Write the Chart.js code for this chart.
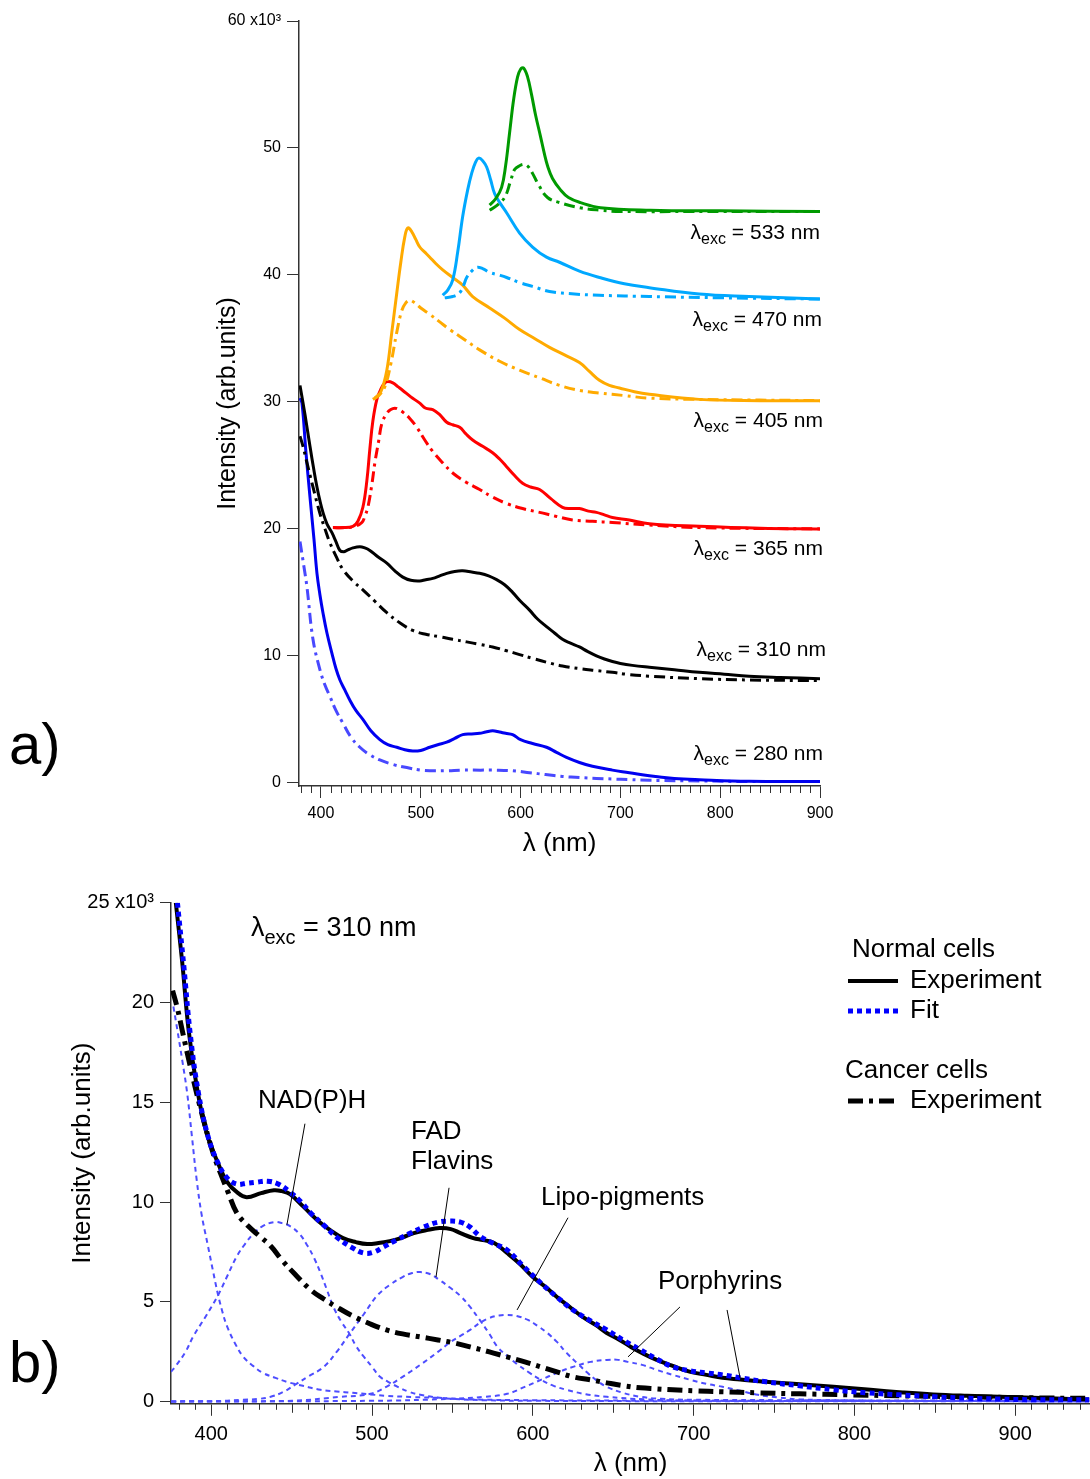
<!DOCTYPE html>
<html>
<head>
<meta charset="utf-8">
<script src="https://cdn.jsdelivr.net/npm/chart.js@4.4.0/dist/chart.umd.min.js"></script>
<style>
  body { margin: 0; background: #fff; }
  #wrap { position: relative; width: 1090px; height: 1479px; }
  canvas { position: absolute; left: 0; }
</style>
</head>
<body>
<div id="wrap">
  <canvas id="chartA" width="1090" height="875" style="top:0;width:1090px;height:875px"></canvas>
  <canvas id="chartB" width="1090" height="604" style="top:875px;width:1090px;height:604px"></canvas>
</div>
<script>
// ---- panel a) : emission spectra for six excitation wavelengths ----
const wl533n = [569, 575, 581, 585, 589, 593, 597, 600, 603, 607, 611, 615, 620, 624, 627, 632, 640, 648, 660, 680, 730, 800, 900];
const int533n = [45.5, 46.0, 46.9, 48.6, 51.2, 53.8, 55.6, 56.2, 56.3, 55.6, 54.2, 52.6, 50.9, 49.5, 48.6, 47.6, 46.7, 46.1, 45.7, 45.3, 45.1, 45.05, 45.0];
const wl533c = [569, 575, 584, 590, 594, 599, 604, 608, 612, 618, 627, 639, 659, 680, 700, 800, 900];
const int533c = [45.1, 45.4, 46.1, 47.4, 48.3, 48.6, 48.7, 48.5, 48.0, 47.1, 46.1, 45.7, 45.3, 45.1, 45.0, 45.0, 45.0];

const wl470n = [522, 527, 532, 537, 542, 547, 551, 555, 558, 562, 566, 570, 574, 580, 586, 599, 612, 626, 639, 659, 679, 704, 729, 779, 829, 900];
const int470n = [38.4, 38.8, 39.6, 41.8, 44.6, 46.7, 48.0, 48.9, 49.2, 49.0, 48.5, 47.5, 46.4, 45.6, 44.9, 43.3, 42.2, 41.4, 41.0, 40.3, 39.8, 39.3, 39.0, 38.5, 38.3, 38.1];
const wl470c = [524, 532, 539, 543, 546, 551, 556, 562, 569, 578, 586, 599, 612, 629, 654, 679, 729, 800, 900];
const int470c = [38.2, 38.3, 38.6, 39.2, 39.8, 40.3, 40.6, 40.5, 40.2, 40.0, 39.8, 39.4, 39.1, 38.7, 38.5, 38.4, 38.3, 38.2, 38.1];

const wl405n = [454, 460, 466, 471, 476, 480, 484, 487, 491, 495, 499, 504, 509, 515, 522, 532, 542, 552, 569, 584, 599, 614, 629, 644, 659, 669, 679, 689, 699, 714, 729, 779, 840, 900];
const int405n = [30.3, 30.8, 32.5, 35.5, 38.6, 41.0, 43.0, 43.7, 43.4, 42.8, 42.2, 41.8, 41.4, 40.9, 40.4, 39.8, 39.2, 38.3, 37.4, 36.6, 35.7, 35.0, 34.3, 33.7, 33.1, 32.4, 31.7, 31.3, 31.1, 30.8, 30.6, 30.2, 30.1, 30.1];
const wl405c = [452, 458, 464, 470, 476, 481, 485, 489, 494, 500, 509, 519, 529, 544, 559, 579, 599, 619, 639, 659, 679, 704, 729, 779, 900];
const int405c = [30.2, 30.5, 31.2, 33.0, 35.5, 37.2, 37.8, 38.0, 37.8, 37.4, 36.9, 36.3, 35.7, 34.9, 34.1, 33.2, 32.5, 31.9, 31.3, 30.9, 30.7, 30.5, 30.3, 30.2, 30.1];

const wl365n = [412, 422, 432, 437, 442, 446, 449, 452, 456, 460, 464, 467, 472, 477, 482, 490, 499, 505, 512, 519, 526, 532, 539, 545, 552, 562, 572, 579, 586, 594, 602, 610, 619, 630, 642, 650, 659, 668, 676, 684, 692, 709, 729, 779, 840, 900];
const int365n = [20.1, 20.1, 20.2, 20.6, 21.7, 23.8, 26.3, 28.5, 30.2, 31.0, 31.5, 31.6, 31.5, 31.2, 30.9, 30.4, 29.9, 29.5, 29.4, 29.0, 28.4, 28.2, 28.0, 27.5, 27.0, 26.5, 26.0, 25.5, 24.9, 24.2, 23.6, 23.3, 23.1, 22.4, 21.7, 21.6, 21.6, 21.4, 21.3, 21.1, 20.9, 20.7, 20.4, 20.2, 20.05, 20.0];
const wl365c = [412, 425, 434, 441, 444, 447, 451, 454, 458, 461, 466, 470, 474, 478, 482, 489, 496, 504, 512, 522, 532, 545, 559, 572, 586, 602, 619, 635, 652, 672, 692, 729, 779, 900];
const int365c = [20.1, 20.1, 20.2, 20.5, 21.0, 21.7, 23.5, 25.2, 27.0, 28.3, 29.1, 29.4, 29.5, 29.4, 29.2, 28.7, 28.0, 27.0, 26.1, 25.2, 24.4, 23.7, 23.1, 22.5, 22.0, 21.6, 21.3, 21.0, 20.7, 20.6, 20.5, 20.3, 20.1, 20.0];

const wl310n = [379, 384, 389, 393, 396, 399, 402, 406, 411, 415, 419, 423, 426, 432, 439, 444, 449, 457, 466, 474, 482, 490, 499, 505, 512, 519, 526, 534, 542, 551, 559, 568, 576, 584, 592, 600, 609, 617, 626, 634, 642, 650, 659, 667, 676, 684, 692, 700, 712, 729, 754, 779, 804, 829, 860, 900];
const int310n = [31.3, 29.0, 26.5, 24.6, 23.3, 22.2, 21.3, 20.4, 19.7, 19.0, 18.3, 18.2, 18.3, 18.5, 18.6, 18.5, 18.3, 17.8, 17.3, 16.7, 16.2, 15.95, 15.9, 16.0, 16.1, 16.3, 16.5, 16.65, 16.7, 16.6, 16.5, 16.3, 16.0, 15.6, 15.0, 14.3, 13.6, 12.9, 12.3, 11.8, 11.3, 11.0, 10.7, 10.35, 10.0, 9.75, 9.55, 9.4, 9.25, 9.1, 8.9, 8.7, 8.55, 8.4, 8.3, 8.2];
const wl310c = [379, 382, 386, 392, 399, 404, 409, 416, 422, 432, 442, 454, 466, 479, 492, 505, 519, 532, 546, 559, 572, 586, 599, 612, 626, 642, 659, 675, 692, 706, 729, 779, 829, 900];
const int310c = [27.3, 26.5, 25.2, 23.3, 21.2, 20.0, 18.9, 17.7, 16.8, 15.9, 15.2, 14.3, 13.4, 12.6, 12.0, 11.7, 11.5, 11.3, 11.1, 10.9, 10.7, 10.4, 10.1, 9.8, 9.5, 9.2, 9.0, 8.85, 8.7, 8.55, 8.4, 8.2, 8.1, 8.05];

const wl280n = [379, 381, 385, 389, 393, 396, 399, 402, 406, 411, 415, 419, 424, 429, 435, 442, 450, 459, 467, 476, 484, 492, 500, 509, 517, 526, 534, 542, 551, 559, 565, 572, 579, 585, 592, 600, 612, 626, 636, 646, 659, 672, 692, 709, 729, 754, 779, 829, 900];
const int280n = [30.3, 29.9, 26.0, 22.5, 19.2, 16.5, 14.8, 13.4, 11.8, 10.2, 9.0, 8.1, 7.3, 6.5, 5.7, 5.0, 4.1, 3.4, 3.0, 2.8, 2.6, 2.5, 2.55, 2.8, 3.0, 3.2, 3.5, 3.8, 3.85, 3.9, 4.0, 4.1, 4.0, 3.9, 3.8, 3.4, 3.1, 2.8, 2.4, 2.0, 1.6, 1.3, 1.0, 0.8, 0.55, 0.35, 0.25, 0.12, 0.1];
const wl280c = [379, 383, 386, 392, 399, 404, 409, 415, 422, 430, 439, 449, 459, 472, 486, 500, 509, 525, 542, 560, 576, 592, 609, 625, 642, 659, 676, 692, 709, 729, 779, 829, 900];
const int280c = [19.0, 17.0, 15.4, 11.3, 8.9, 7.7, 6.8, 5.7, 4.7, 3.6, 2.8, 2.2, 1.8, 1.45, 1.2, 1.0, 0.95, 0.95, 1.0, 1.0, 1.0, 0.95, 0.8, 0.65, 0.5, 0.42, 0.35, 0.3, 0.25, 0.2, 0.15, 0.1, 0.1];

const ticksAx = [400, 500, 600, 700, 800, 900];
const ticksAy = [0, 10, 20, 30, 40, 50, 60];

// ---- panel b) : 310 nm excitation, fit decomposition ----
const wlNormal = [378, 382, 386, 391, 397, 404, 410, 416, 422, 431, 439, 444, 449, 457, 466, 474, 482, 490, 497, 504, 511, 518, 526, 534, 542, 549, 555, 563, 569, 576, 584, 592, 600, 608, 615, 623, 631, 639, 646, 654, 661, 669, 677, 687, 698, 708, 718, 729, 745, 766, 787, 810, 830, 849, 870, 890, 911, 930, 946];
const intNormal = [25.0, 22.0, 18.6, 15.8, 13.5, 12.0, 11.0, 10.5, 10.25, 10.45, 10.6, 10.55, 10.4, 9.8, 9.1, 8.6, 8.2, 8.0, 7.9, 7.95, 8.05, 8.2, 8.45, 8.6, 8.7, 8.65, 8.45, 8.2, 8.1, 7.95, 7.45, 6.9, 6.25, 5.75, 5.25, 4.75, 4.25, 3.85, 3.45, 3.1, 2.75, 2.4, 2.1, 1.8, 1.5, 1.35, 1.2, 1.12, 1.0, 0.88, 0.75, 0.6, 0.47, 0.37, 0.3, 0.25, 0.2, 0.15, 0.12];
const wlFit = [379, 383, 387, 392, 398, 404, 410, 416, 422, 428, 435, 442, 449, 456, 462, 470, 478, 487, 495, 501, 507, 515, 524, 532, 541, 548, 555, 561, 567, 575, 584, 594, 605, 615, 625, 636, 646, 656, 667, 677, 687, 698, 708, 718, 729, 745, 766, 787, 808, 828, 850, 870, 890, 911, 930, 946];
const intFit = [25.0, 21.8, 18.4, 15.5, 13.3, 12.0, 11.2, 10.9, 10.95, 11.0, 11.05, 10.9, 10.5, 10.0, 9.45, 8.85, 8.25, 7.75, 7.45, 7.5, 7.75, 8.1, 8.45, 8.75, 9.0, 9.05, 9.0, 8.75, 8.3, 7.95, 7.6, 6.8, 5.95, 5.25, 4.6, 4.05, 3.6, 3.1, 2.6, 2.15, 1.75, 1.55, 1.45, 1.35, 1.2, 1.0, 0.8, 0.6, 0.45, 0.35, 0.25, 0.18, 0.14, 0.1, 0.1, 0.1];
const wlCancer = [376, 379, 382, 387, 393, 401, 406, 410, 416, 423, 430, 437, 444, 452, 462, 470, 478, 488, 499, 509, 519, 530, 541, 551, 561, 573, 584, 595, 605, 615, 625, 636, 646, 657, 667, 677, 687, 700, 718, 740, 766, 797, 828, 870, 910, 946];
const intCancer = [20.6, 19.7, 18.6, 16.8, 14.8, 12.5, 11.4, 10.6, 9.45, 8.8, 8.3, 7.8, 7.1, 6.4, 5.6, 5.15, 4.75, 4.3, 3.9, 3.6, 3.4, 3.25, 3.1, 2.95, 2.75, 2.5, 2.25, 2.0, 1.75, 1.5, 1.25, 1.1, 0.95, 0.8, 0.7, 0.65, 0.6, 0.55, 0.5, 0.45, 0.4, 0.35, 0.3, 0.25, 0.2, 0.17];

const wlUV = [376.5, 379, 382, 385, 388, 391, 394, 398, 401, 404, 407, 410, 415, 420, 426, 432, 440, 447, 457, 468, 478, 488, 499, 509, 525, 541, 561, 600, 700, 800, 946];
const intUV = [19.8, 18.6, 17.1, 15.5, 13.3, 11.1, 9.4, 7.8, 6.6, 5.45, 4.5, 3.75, 2.9, 2.25, 1.8, 1.45, 1.2, 1.0, 0.8, 0.6, 0.52, 0.45, 0.37, 0.3, 0.24, 0.2, 0.12, 0.08, 0.05, 0.04, 0.03];
const wlNADH = [375, 378, 384, 389, 396, 404, 410, 416, 421, 426, 432, 439, 444, 449, 455, 460, 464, 468, 472, 476, 481, 486, 490, 495, 500, 505, 510, 516, 523, 530, 540, 550, 570, 600, 700, 946];
const intNADH = [1.5, 1.8, 2.5, 3.3, 4.2, 5.3, 6.3, 7.3, 7.9, 8.4, 8.8, 9.0, 8.95, 8.8, 8.4, 7.8, 7.2, 6.45, 5.6, 4.75, 4.0, 3.4, 2.8, 2.25, 1.75, 1.25, 1.0, 0.75, 0.5, 0.35, 0.22, 0.15, 0.08, 0.05, 0.03, 0.02];
const wlFAD = [375, 400, 420, 430, 437, 445, 453, 461, 470, 478, 486, 495, 503, 511, 519, 525, 530, 536, 542, 548, 555, 561, 567, 573, 578, 584, 590, 598, 605, 613, 621, 633, 646, 670, 700, 946];
const intFAD = [0.02, 0.03, 0.1, 0.15, 0.25, 0.5, 0.9, 1.3, 1.75, 2.5, 3.4, 4.4, 5.3, 5.85, 6.25, 6.45, 6.5, 6.4, 6.1, 5.75, 5.3, 4.75, 4.1, 3.4, 2.75, 2.3, 1.9, 1.45, 1.1, 0.8, 0.6, 0.38, 0.25, 0.12, 0.06, 0.03];
const wlLipo = [375, 450, 480, 499, 510, 519, 530, 541, 549, 555, 561, 567, 573, 579, 584, 590, 597, 603, 609, 615, 621, 628, 634, 640, 646, 656, 667, 680, 700, 946];
const intLipo = [0.02, 0.05, 0.25, 0.4, 0.8, 1.25, 1.85, 2.5, 3.0, 3.3, 3.6, 3.95, 4.2, 4.32, 4.35, 4.3, 4.1, 3.8, 3.45, 3.0, 2.45, 1.9, 1.45, 1.05, 0.75, 0.45, 0.25, 0.15, 0.1, 0.05];
const wlPorph = [375, 500, 550, 570, 584, 595, 605, 615, 625, 636, 646, 653, 659, 668, 677, 687, 698, 708, 718, 729, 740, 752, 766, 790, 830, 946];
const intPorph = [0.02, 0.05, 0.15, 0.25, 0.4, 0.75, 1.1, 1.45, 1.75, 2.0, 2.1, 2.1, 2.0, 1.85, 1.6, 1.35, 1.1, 0.9, 0.75, 0.55, 0.35, 0.22, 0.12, 0.08, 0.05, 0.04];

const ticksBx = [400, 500, 600, 700, 800, 900];
const ticksBy = [0, 5, 10, 15, 20, 25];

const FONT = '"Liberation Sans", Arial, Helvetica, sans-serif';
const AXIS = '#333';
Chart.defaults.font.family = FONT;
Chart.defaults.color = '#000';

function pts(xs, ys) {
    return xs.map((x, i) => ({ x: x, y: ys[i] }));
}

function series(label, xs, ys, color, width, dash) {
    return {
        label: label,
        data: pts(xs, ys),
        borderColor: color,
        borderWidth: width,
        borderDash: dash || [],
        borderCapStyle: 'butt',
        borderJoinStyle: 'round',
        pointRadius: 0,
        fill: false,
        tension: 0.4
    };
}

// small ticks between the labelled ones
const minorTicks = {
    id: 'minorTicks',
    afterDraw(chart, args, o) {
        const sc = chart.scales.x;
        const ctx = chart.ctx;
        ctx.save();
        ctx.strokeStyle = AXIS;
        ctx.lineWidth = 1;
        ctx.beginPath();
        for (let v = o.from; v <= o.to; v += 10) {
            if (v % 100 === 0) continue;
            const px = Math.round(sc.getPixelForValue(v)) + 0.5;
            const len = v % 50 === 0 ? o.mid : o.short;
            ctx.moveTo(px, sc.top);
            ctx.lineTo(px, sc.top + len);
        }
        ctx.stroke();
        ctx.restore();
    }
};

function lambdaText(ctx, x, y, align, big, small, drop, value) {
    const rest = ' = ' + value + ' nm';
    ctx.font = big + 'px ' + FONT;
    const wL = ctx.measureText('λ').width;
    const wR = ctx.measureText(rest).width;
    ctx.font = small + 'px ' + FONT;
    const wS = ctx.measureText('exc').width;
    const x0 = align === 'right' ? x - (wL + wS + wR) : x;
    ctx.textAlign = 'left';
    ctx.textBaseline = 'middle';
    ctx.font = big + 'px ' + FONT;
    ctx.fillText('λ', x0, y);
    ctx.fillText(rest, x0 + wL + wS, y);
    ctx.font = small + 'px ' + FONT;
    ctx.fillText('exc', x0 + wL, y + drop);
}

const annotA = {
    id: 'annotA',
    afterDraw(chart) {
        const ctx = chart.ctx;
        ctx.save();
        ctx.fillStyle = '#000';
        lambdaText(ctx, 820, 233, 'right', 21, 16, 7, '533');
        lambdaText(ctx, 822, 320, 'right', 21, 16, 7, '470');
        lambdaText(ctx, 823, 421, 'right', 21, 16, 7, '405');
        lambdaText(ctx, 823, 549, 'right', 21, 16, 7, '365');
        lambdaText(ctx, 826, 650, 'right', 21, 16, 7, '310');
        lambdaText(ctx, 823, 754, 'right', 21, 16, 7, '280');
        ctx.font = '58px ' + FONT;
        ctx.textAlign = 'left';
        ctx.textBaseline = 'alphabetic';
        ctx.fillText('a)', 9, 764);
        ctx.restore();
    }
};

const annotB = {
    id: 'annotB',
    afterDraw(chart) {
        const ctx = chart.ctx;
        const x = chart.scales.x, y = chart.scales.y;
        ctx.save();
        ctx.fillStyle = '#000';
        lambdaText(ctx, 251, 54, 'left', 27, 20, 9, '310');

        ctx.font = '26px ' + FONT;
        ctx.textAlign = 'left';
        ctx.textBaseline = 'middle';
        ctx.fillText('NAD(P)H', 258, 226);
        ctx.fillText('FAD', 411, 257);
        ctx.fillText('Flavins', 411, 287);
        ctx.fillText('Lipo-pigments', 541, 323);
        ctx.fillText('Porphyrins', 658, 407);

        // leader lines, given in data units
        const leaders = [
            [458.3, 13.93, 447.1, 8.87],
            [547.9, 10.72, 539.8, 6.25],
            [621.9, 9.22, 590.2, 4.6],
            [691.5, 4.75, 659.2, 2.25],
            [720.8, 4.6, 728.9, 1.2]
        ];
        ctx.strokeStyle = '#000';
        ctx.lineWidth = 1;
        ctx.beginPath();
        leaders.forEach(l => {
            ctx.moveTo(x.getPixelForValue(l[0]), y.getPixelForValue(l[1]));
            ctx.lineTo(x.getPixelForValue(l[2]), y.getPixelForValue(l[3]));
        });
        ctx.stroke();

        // legend
        ctx.fillText('Normal cells', 852, 75);
        ctx.fillText('Experiment', 910, 106);
        ctx.fillText('Fit', 910, 136);
        ctx.fillText('Cancer cells', 845, 196);
        ctx.fillText('Experiment', 910, 226);
        ctx.lineCap = 'butt';
        ctx.strokeStyle = '#000';
        ctx.lineWidth = 4;
        ctx.setLineDash([]);
        ctx.beginPath(); ctx.moveTo(848, 106); ctx.lineTo(898, 106); ctx.stroke();
        ctx.strokeStyle = '#0000ff';
        ctx.lineWidth = 5;
        ctx.setLineDash([5, 4]);
        ctx.beginPath(); ctx.moveTo(848, 136); ctx.lineTo(898, 136); ctx.stroke();
        ctx.strokeStyle = '#000';
        ctx.lineWidth = 5;
        ctx.setLineDash([15, 6, 4, 6]);
        ctx.beginPath(); ctx.moveTo(848, 226); ctx.lineTo(898, 226); ctx.stroke();
        ctx.setLineDash([]);

        ctx.font = '58px ' + FONT;
        ctx.textBaseline = 'alphabetic';
        ctx.fillText('b)', 9, 507);
        ctx.restore();
    }
};

const DASHDOT = [11, 5, 3, 5];

new Chart(document.getElementById('chartA'), {
    type: 'line',
    data: {
        datasets: [
            series('533 normal', wl533n, int533n, '#009a00', 3),
            series('533 cancer', wl533c, int533c, '#009a00', 3, DASHDOT),
            series('470 normal', wl470n, int470n, '#00a8ff', 3),
            series('470 cancer', wl470c, int470c, '#00a8ff', 3, DASHDOT),
            series('405 normal', wl405n, int405n, '#ffaa00', 3),
            series('405 cancer', wl405c, int405c, '#ffaa00', 3, DASHDOT),
            series('365 normal', wl365n, int365n, '#ff0000', 3),
            series('365 cancer', wl365c, int365c, '#ff0000', 3, DASHDOT),
            series('310 normal', wl310n, int310n, '#000000', 3),
            series('310 cancer', wl310c, int310c, '#000000', 3, DASHDOT),
            series('280 normal', wl280n, int280n, '#0000f0', 3),
            series('280 cancer', wl280c, int280c, '#4848ff', 3, DASHDOT)
        ]
    },
    options: {
        responsive: false,
        animation: false,
        layout: { padding: { left: 205, top: 21, right: 270, bottom: 0 } },
        plugins: {
            legend: { display: false },
            tooltip: { enabled: false },
            minorTicks: { from: 380, to: 900, short: 7, mid: 7 }
        },
        scales: {
            x: {
                type: 'linear',
                min: 378,
                max: 900,
                afterBuildTicks: s => { s.ticks = ticksAx.map(v => ({ value: v })); },
                afterFit: s => { s.height = 89; },
                grid: { drawOnChartArea: false, drawTicks: true, tickLength: 12, color: AXIS, lineWidth: 1 },
                border: { display: true, color: AXIS, width: 1.5 },
                ticks: { font: { size: 16 }, padding: 6, color: '#000', autoSkip: false, maxRotation: 0 },
                title: { display: true, text: 'λ (nm)', font: { size: 26 }, color: '#000', padding: { top: 0, bottom: 16 } }
            },
            y: {
                type: 'linear',
                min: -0.25,
                max: 60,
                afterBuildTicks: s => { s.ticks = ticksAy.map(v => ({ value: v })); },
                afterFit: s => { s.width = 94; },
                grid: { drawOnChartArea: false, drawTicks: true, tickLength: 12, color: AXIS, lineWidth: 1 },
                border: { display: true, color: AXIS, width: 1.5 },
                ticks: {
                    font: { size: 16 }, padding: 6, color: '#000',
                    callback: v => v === 60 ? '60 x10³' : String(v)
                },
                title: { display: true, text: 'Intensity (arb.units)', font: { size: 25 }, color: '#000', padding: { top: 8, bottom: 0 } }
            }
        }
    },
    plugins: [minorTicks, annotA]
});

const COMP = '#4d4dff';
const COMPDASH = [5, 4];

new Chart(document.getElementById('chartB'), {
    type: 'line',
    data: {
        datasets: [
            series('Fit', wlFit, intFit, '#0000ff', 5, [5, 4]),
            series('Normal experiment', wlNormal, intNormal, '#000000', 4),
            series('Cancer experiment', wlCancer, intCancer, '#000000', 5, [15, 6, 4, 6]),
            series('UV component', wlUV, intUV, COMP, 2, COMPDASH),
            series('NAD(P)H', wlNADH, intNADH, COMP, 2, COMPDASH),
            series('FAD', wlFAD, intFAD, COMP, 2, COMPDASH),
            series('Lipo-pigments', wlLipo, intLipo, COMP, 2, COMPDASH),
            series('Porphyrins', wlPorph, intPorph, COMP, 2, COMPDASH)
        ]
    },
    options: {
        responsive: false,
        animation: false,
        layout: { padding: { left: 60, top: 27.7, right: 0, bottom: 0 } },
        plugins: {
            legend: { display: false },
            tooltip: { enabled: false },
            minorTicks: { from: 380, to: 940, short: 6, mid: 9 }
        },
        scales: {
            x: {
                type: 'linear',
                min: 375,
                max: 946.5,
                afterBuildTicks: s => { s.ticks = ticksBx.map(v => ({ value: v })); },
                afterFit: s => { s.height = 75.2; },
                grid: { drawOnChartArea: false, drawTicks: true, tickLength: 12, color: AXIS, lineWidth: 1 },
                border: { display: true, color: AXIS, width: 1.5 },
                ticks: { font: { size: 20 }, padding: 7, color: '#000', autoSkip: false, maxRotation: 0 },
                title: { display: true, text: 'λ (nm)', font: { size: 26 }, color: '#000', padding: { top: 0, bottom: 0 } }
            },
            y: {
                type: 'linear',
                min: -0.1,
                max: 25,
                afterBuildTicks: s => { s.ticks = ticksBy.map(v => ({ value: v })); },
                afterFit: s => { s.width = 111; },
                grid: { drawOnChartArea: false, drawTicks: true, tickLength: 11, color: AXIS, lineWidth: 1 },
                border: { display: true, color: AXIS, width: 1.5 },
                ticks: {
                    font: { size: 20 }, padding: 6, color: '#000',
                    callback: v => v === 25 ? '25 x10³' : String(v)
                },
                title: { display: true, text: 'Intensity (arb.units)', font: { size: 26 }, color: '#000', padding: { top: 7.4, bottom: 0 } }
            }
        }
    },
    plugins: [minorTicks, annotB]
});
</script>
</body>
</html>
